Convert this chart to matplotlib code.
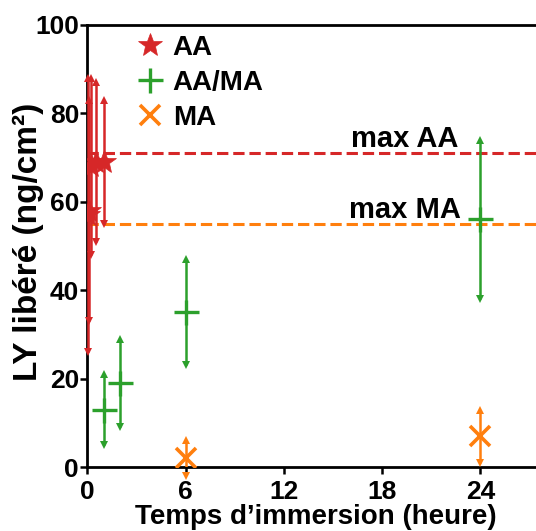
import matplotlib
matplotlib.use("Agg")
import matplotlib.pyplot as plt

plt.rcParams['font.family'] = ['Liberation Sans', 'DejaVu Sans']
plt.rcParams['font.weight'] = 'bold'

# AA series
aa_t = [0.033, 0.083, 0.25, 0.5, 1.0]
aa_mean = [57, 58, 68, 69, 69]
aa_err = [31, 25, 20, 18, 14]
# AA/MA series
aama_t = [1, 2, 6, 24]
aama_mean = [13, 19, 35, 56]
aama_err = [8, 10, 12, 18]
# MA series
ma_t = [6, 24]
ma_mean = [2, 7]
ma_err = [4, 6]

max_aa = 71
max_ma = 55

xticks = [0, 6, 12, 18, 24]
yticks = [0, 20, 40, 60, 80, 100]

c_aa = '#d62728'
c_aama = '#2ca02c'
c_ma = '#ff7f0e'

fig = plt.figure(figsize=(5.36, 5.31), dpi=100)
ax = fig.add_axes([0.163, 0.1205, 0.837, 0.8325])

def draw(t, m, e, color, marker, ms, mew, label):
    ax.errorbar(t, m, yerr=e, fmt='none', ecolor=color, elinewidth=1.8, capsize=0, zorder=3)
    lo = [mm - ee for mm, ee in zip(m, e)]
    hi = [mm + ee for mm, ee in zip(m, e)]
    ax.plot(t, hi, linestyle='none', marker='^', ms=6, color=color, mew=0, zorder=3, clip_on=False)
    ax.plot(t, lo, linestyle='none', marker='v', ms=6, color=color, mew=0, zorder=3, clip_on=False)
    ax.plot(t, m, linestyle='none', marker=marker, ms=ms, color=color, mew=mew, label=label, zorder=4)

ax.axhline(max_aa, color=c_aa, ls='--', lw=2.2, zorder=2)
ax.axhline(max_ma, color=c_ma, ls='--', lw=2.2, zorder=2)

draw(aa_t, aa_mean, aa_err, c_aa, '*', 18, 0.5, 'AA')
draw(aama_t, aama_mean, aama_err, c_aama, '+', 18, 2.4, 'AA/MA')
draw(ma_t, ma_mean, ma_err, c_ma, 'x', 14, 2.6, 'MA')

ax.text(19.4, max_aa + 1.4, 'max AA', ha='center', va='baseline', fontsize=21, fontweight='bold')
ax.text(19.4, max_ma + 1.4, 'max MA', ha='center', va='baseline', fontsize=21, fontweight='bold')

ax.set_xlim(0, 27.4)
ax.set_ylim(0, 100)
ax.set_xticks(xticks)
ax.set_yticks(yticks)
ax.tick_params(direction='out', length=5, width=1.8, labelsize=19)
ax.tick_params(axis='y', pad=1)
ax.tick_params(axis='x', pad=4)
for lab in ax.get_xticklabels() + ax.get_yticklabels():
    lab.set_fontweight('bold')
for s in ['left', 'bottom', 'top']:
    ax.spines[s].set_linewidth(2)
ax.spines['right'].set_visible(False)

ax.set_xlabel("Temps d\u2019immersion (heure)", fontsize=20, fontweight='bold')
ax.xaxis.set_label_coords(0.509, -0.083)
ax.set_ylabel("LY libéré (ng/cm²)", fontsize=24, fontweight='bold')
ax.yaxis.set_label_coords(-0.097, 0.51)

leg = ax.legend(loc='upper left', bbox_to_anchor=(0.108, 0.977), frameon=False,
                prop={'size': 20, 'weight': 'bold'}, handletextpad=0.33,
                labelspacing=0.32, handlelength=1.0, borderpad=0, borderaxespad=0)

fig.savefig('out.png', dpi=100)
